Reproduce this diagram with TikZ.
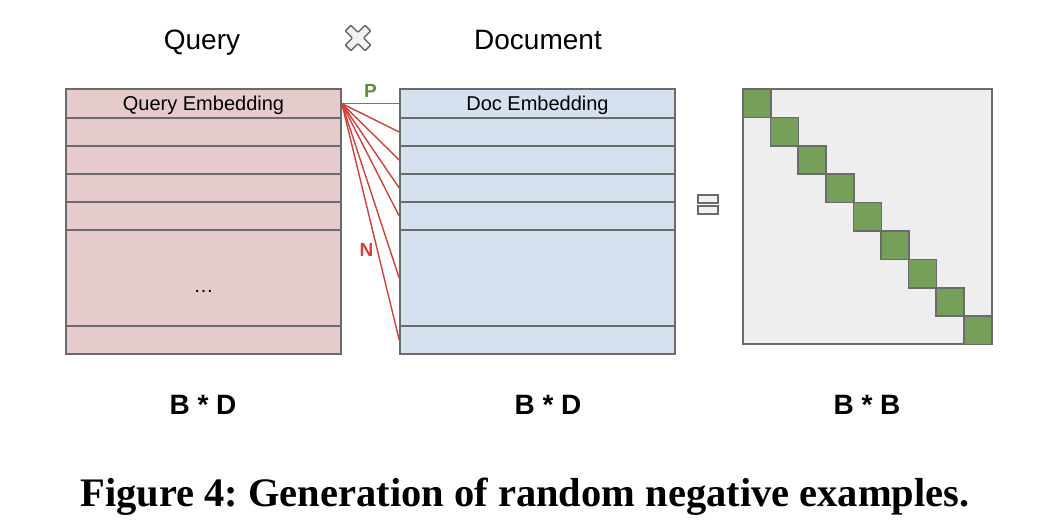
\documentclass[tikz,border=0pt]{standalone}
\usepackage{fontspec}
\setmainfont{Liberation Serif}
\setsansfont{Liberation Sans}
\usepackage{tikz}

\definecolor{qfill}{HTML}{E6CBCC}
\definecolor{dfill}{HTML}{D5E1EF}
\definecolor{edge}{HTML}{6B6B6B}
\definecolor{cellgreen}{HTML}{76A05A}
\definecolor{pgreen}{HTML}{5E8C3E}
\definecolor{nred}{HTML}{D2403A}

\tikzset{
  qrow/.style={draw=edge, fill=qfill, line width=1.6pt, minimum width=275pt, inner sep=0pt, text depth=0pt, font=\sffamily\fontsize{20}{20}\selectfont},
  drow/.style={draw=edge, fill=dfill, line width=1.6pt, minimum width=275pt, inner sep=0pt, text depth=0pt, font=\sffamily\fontsize{20}{20}\selectfont},
  head/.style={text depth=0pt, font=\sffamily\fontsize{28}{28}\selectfont},
  dims/.style={font=\sffamily\bfseries\fontsize{28}{28}\selectfont},
  neg/.style={draw=nred, line width=1.4pt},
  cell/.style={draw=edge, fill=cellgreen, line width=1.6pt}
}

\begin{document}
\begin{tikzpicture}[x=1pt, y=-1pt]
    \useasboundingbox (0,0) rectangle (1056,530);
    \node[head] (query) at (202,40) {Query};
    \node[head] (doc) at (538,40) {Document};
    \draw[edge, fill=gray!10, line width=1.5pt, rounded corners=1pt, shift={(358,38)}, rotate=45]
        (-4,-14) -- (4,-14) -- (4,-4) -- (14,-4) -- (14,4) -- (4,4) -- (4,14) -- (-4,14) -- (-4,4) -- (-14,4) -- (-14,-4) -- (-4,-4) -- cycle;
    % query embeddings
    \node[qrow, minimum height=28.5pt] (q1) at (203.5,103.5) {Query Embedding};
    \node[qrow, minimum height=28pt] (q2) at (203.5,132) {};
    \node[qrow, minimum height=28pt] (q3) at (203.5,160) {};
    \node[qrow, minimum height=28pt] (q4) at (203.5,188) {};
    \node[qrow, minimum height=28pt] (q5) at (203.5,216) {};
    \node[qrow, minimum height=96pt, text height=28pt] (q6) at (203.5,278) {\dots};
    \node[qrow, minimum height=28pt] (q7) at (203.5,340) {};
    % doc embeddings
    \node[drow, minimum height=28.5pt] (d1) at (537.5,103.5) {Doc Embedding};
    \node[drow, minimum height=28pt] (d2) at (537.5,132) {};
    \node[drow, minimum height=28pt] (d3) at (537.5,160) {};
    \node[drow, minimum height=28pt] (d4) at (537.5,188) {};
    \node[drow, minimum height=28pt] (d5) at (537.5,216) {};
    \node[drow, minimum height=96pt] (d6) at (537.5,278) {};
    \node[drow, minimum height=28pt] (d7) at (537.5,340) {};
    % pairs
    \draw[draw=pgreen, line width=1.7pt] (q1.east) -- node[above=2pt, text=pgreen, font=\sffamily\bfseries\fontsize{19}{19}\selectfont] {P} (d1.west);
    \draw[neg] (q1.east) -- (d2.west);
    \draw[neg] (q1.east) -- (d3.west);
    \draw[neg] (q1.east) -- (d4.west);
    \draw[neg] (q1.east) -- (d5.west);
    \draw[neg] (q1.east) -- (d6.west);
    \draw[neg] (q1.east) -- node[pos=0.62, left=0pt, text=nred, font=\sffamily\bfseries\fontsize{19}{19}\selectfont] {N} (d7.west);
    % equals
    \draw[edge, fill=gray!10, line width=1.3pt] (698,195) rectangle (718,203);
    \draw[edge, fill=gray!10, line width=1.3pt] (698,206) rectangle (718,214);
    % score matrix
    \node[draw=edge, fill=gray!13, line width=1.6pt, minimum width=249pt, minimum height=255pt] (scores) at (867.5,216.5) {};
    \foreach \i in {0,...,8}
        \draw[cell] (743+27.6*\i, 89+28.4*\i) rectangle ++(28,28.4);
    \node[dims] (qdim) at (203,405) {B * D};
    \node[dims] (ddim) at (548,405) {B * D};
    \node[dims] (sdim) at (867,405) {B * B};
    \node[font=\bfseries\fontsize{40.5}{40.5}\selectfont] (caption) at (525,497) {\frenchspacing Figure 4: Generation of random negative examples.};
\end{tikzpicture}
\end{document}
